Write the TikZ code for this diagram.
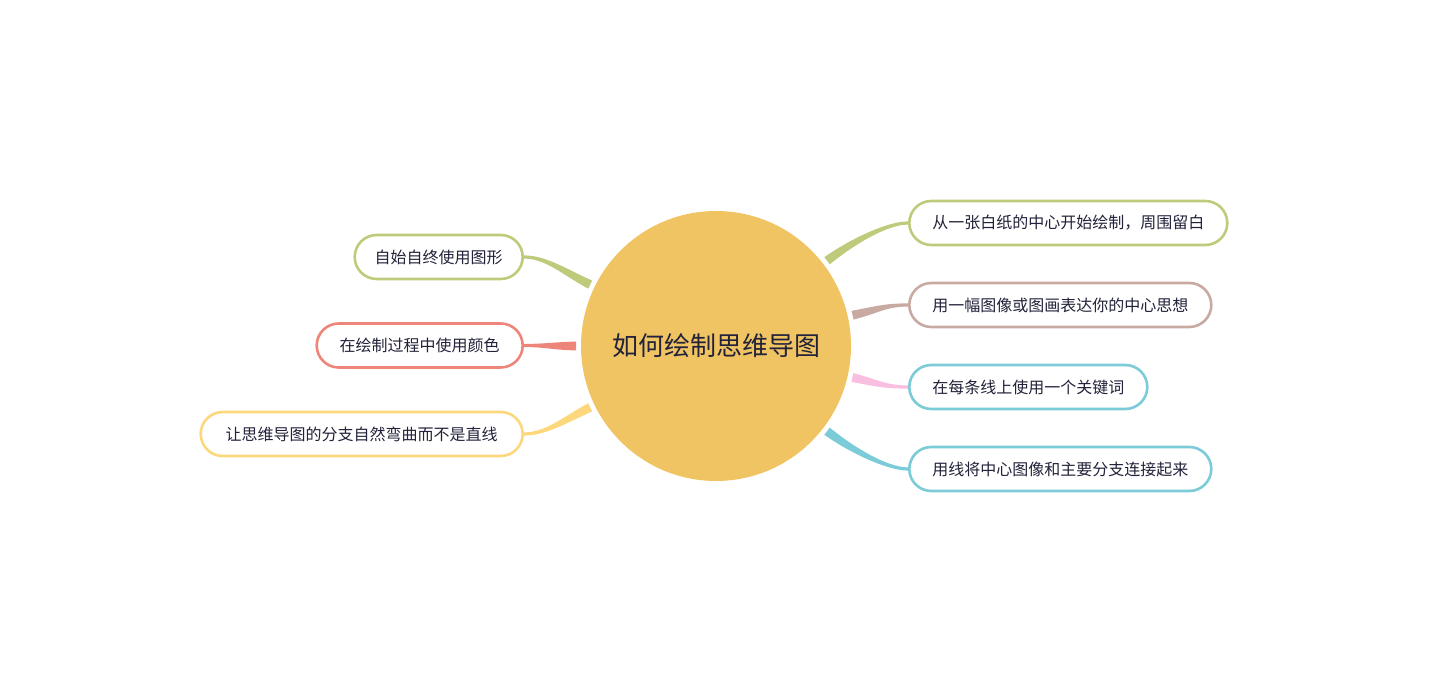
\documentclass[tikz,border=0pt]{standalone}
\usepackage{fontspec}
\newfontfamily\cjk{Noto Sans CJK SC}
\usetikzlibrary{calc}

\definecolor{hubfill}{HTML}{F0C463}
\definecolor{inkdark}{HTML}{22223A}
\definecolor{leafgreen}{HTML}{BFCA7A}
\definecolor{leafbrown}{HTML}{C8AAA2}
\definecolor{leafcyan}{HTML}{7BCBD8}
\definecolor{leafred}{HTML}{EE857A}
\definecolor{leafyellow}{HTML}{FCD77B}
\definecolor{leafpink}{HTML}{F9BFE0}

\tikzset{
  hubnode/.style={circle, fill=hubfill, minimum size=270pt, inner sep=0pt,
    text=inkdark, font=\cjk\fontsize{26pt}{30pt}\selectfont},
  leaf/.style={rectangle, rounded corners=22pt, draw=#1, line width=2.6pt,
    fill=white, minimum height=44pt, inner xsep=23pt, inner ysep=0pt,
    text=inkdark, font=\cjk\fontsize{16pt}{19pt}\selectfont},
}

% tapered branch: colour, start angle on hub, end anchor, end direction
\newcommand{\branch}[4]{%
  \fill[#1] ($(hub)+(#2:140pt)+(#2+90:4.5pt)$)
    .. controls ($(hub)+(#2:168pt)+(#2+90:3.5pt)$) and ($(#3)+(#4+180:22pt)+(#4+90:1.6pt)$)
    .. ($(#3)+(#4+90:1.6pt)$)
    -- ($(#3)+(#4-90:1.6pt)$)
    .. controls ($(#3)+(#4+180:22pt)+(#4-90:1.6pt)$) and ($(hub)+(#2:168pt)+(#2-90:3.5pt)$)
    .. ($(hub)+(#2:140pt)+(#2-90:4.5pt)$) -- cycle;
}

\begin{document}
\begin{tikzpicture}[x=1pt, y=1pt]
  \useasboundingbox (0,0) rectangle (1432,692);

  \node[hubnode] (hub) at (716,346) {如何绘制思维导图};

  % right side
  \node[leaf=leafgreen, anchor=west] (paper) at (908,469) {从一张白纸的中心开始绘制，周围留白};
  \node[leaf=leafbrown, anchor=west] (image) at (908,387) {用一幅图像或图画表达你的中心思想};
  \node[leaf=leafcyan, anchor=west] (keyword) at (908,305) {在每条线上使用一个关键词};
  \node[leaf=leafcyan, anchor=west] (link) at (908,223) {用线将中心图像和主要分支连接起来};

  % left side
  \node[leaf=leafgreen, anchor=east, inner xsep=20pt] (shape) at (524,435) {自始自终使用图形};
  \node[leaf=leafred, anchor=east] (colour) at (524,346.5) {在绘制过程中使用颜色};
  \node[leaf=leafyellow, anchor=east, inner xsep=25pt] (curve) at (524,258) {让思维导图的分支自然弯曲而不是直线};

  \branch{leafgreen}{37.5}{paper.west}{0}
  \branch{leafbrown}{12.7}{image.west}{0}
  \branch{leafpink}{-13}{keyword.west}{0}
  \branch{leafcyan}{-37.5}{link.west}{0}
  \branch{leafgreen}{154}{shape.east}{180}
  \branch{leafred}{180}{colour.east}{180}
  \branch{leafyellow}{206}{curve.east}{180}
\end{tikzpicture}
\end{document}
